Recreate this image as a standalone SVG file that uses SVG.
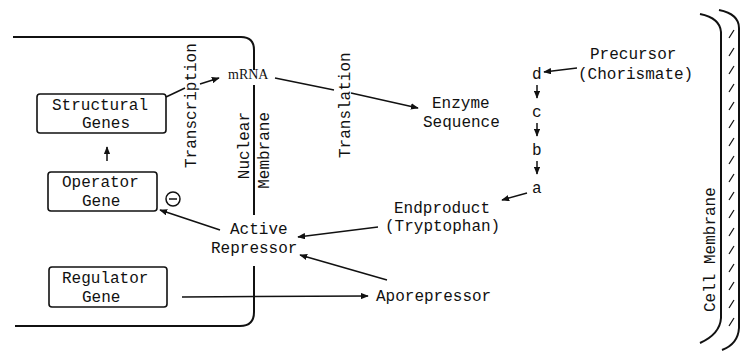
<svg xmlns="http://www.w3.org/2000/svg" width="741" height="351" viewBox="0 0 741 351">
<style>
text{font-family:"Liberation Mono","Courier New",monospace;font-size:16px;fill:#111}
.serif{font-family:"Liberation Serif","Times New Roman",serif;font-size:14px}
.box{fill:none;stroke:#111;stroke-width:1.6}
.ln{fill:none;stroke:#111;stroke-width:1.5}
.mem{fill:none;stroke:#111;stroke-width:2}
.hatch{stroke:#111;stroke-width:1.2}
</style>
<defs>
<marker id="ah" viewBox="0 0 10 8" refX="9" refY="4" markerWidth="8" markerHeight="6.4" markerUnits="userSpaceOnUse" orient="auto">
<path d="M0,0 L10,4 L0,8 z" fill="#111"/>
</marker>
</defs>

<g id="nucleus">
<path class="mem" d="M13,37 H241 Q254,37 254,50 V70"/>
<path class="mem" d="M254,85 V215"/>
<path class="mem" d="M254,266 V312 Q254,326 240,326 H15"/>
<text transform="translate(249,112) rotate(-90)" text-anchor="end">Nuclear</text>
<text transform="translate(269,112) rotate(-90)" text-anchor="end">Membrane</text>
</g>

<g id="cell-membrane">
<path class="mem" d="M700,14 Q720,18 721,32 V318 Q720,334 700,343"/>
<path class="mem" d="M719,10 Q739,14 739,28 V328 Q738,344 722,350"/>
<g class="hatch">
<line x1="729" y1="38" x2="734" y2="30"/>
<line x1="729" y1="56" x2="734" y2="48"/>
<line x1="729" y1="74" x2="734" y2="66"/>
<line x1="729" y1="92" x2="734" y2="84"/>
<line x1="729" y1="110" x2="734" y2="102"/>
<line x1="729" y1="128" x2="734" y2="120"/>
<line x1="729" y1="146" x2="734" y2="138"/>
<line x1="729" y1="164" x2="734" y2="156"/>
<line x1="729" y1="182" x2="734" y2="174"/>
<line x1="729" y1="200" x2="734" y2="192"/>
<line x1="729" y1="218" x2="734" y2="210"/>
<line x1="729" y1="236" x2="734" y2="228"/>
<line x1="729" y1="254" x2="734" y2="246"/>
<line x1="729" y1="272" x2="734" y2="264"/>
<line x1="729" y1="290" x2="734" y2="282"/>
<line x1="729" y1="308" x2="734" y2="300"/>
<line x1="729" y1="326" x2="734" y2="318"/>
</g>
<text transform="translate(715,312) rotate(-90)">Cell Membrane</text>
</g>

<g id="structural-genes">
<rect class="box" x="37" y="94" width="129" height="39" rx="3"/>
<text x="52" y="110">Structural</text>
<text x="82" y="128">Genes</text>
</g>

<g id="operator-gene">
<rect class="box" x="48" y="172" width="109" height="39" rx="3"/>
<text x="62" y="187">Operator</text>
<text x="82" y="206">Gene</text>
</g>

<g id="minus">
<circle cx="173" cy="199" r="7" fill="none" stroke="#111" stroke-width="1.5"/>
<line x1="169" y1="199" x2="177" y2="199" stroke="#111" stroke-width="1.5"/>
</g>

<g id="regulator-gene">
<rect class="box" x="49" y="267" width="118" height="40" rx="3"/>
<text x="62" y="283">Regulator</text>
<text x="82" y="302">Gene</text>
</g>

<g id="mrna"><text class="serif" x="228" y="79">mRNA</text></g>

<g id="transcription"><text transform="translate(196,168) rotate(-90)">Transcription</text></g>
<g id="translation"><text transform="translate(350,158) rotate(-90)">Translation</text></g>

<g id="enzyme">
<text x="432" y="108">Enzyme</text>
<text x="423" y="127">Sequence</text>
</g>

<g id="active-repressor">
<text x="230" y="234">Active</text>
<text x="211" y="253">Repressor</text>
</g>

<g id="aporepressor"><text x="376" y="301">Aporepressor</text></g>

<g id="endproduct">
<text x="394" y="213">Endproduct</text>
<text x="385" y="231">(Tryptophan)</text>
</g>

<g id="precursor">
<text x="590" y="59">Precursor</text>
<text x="578" y="79">(Chorismate)</text>
</g>

<g id="pathway">
<text x="532" y="79">d</text>
<text x="532" y="117">c</text>
<text x="532" y="155">b</text>
<text x="532" y="193">a</text>
</g>

<g id="connectors">
<line class="ln" x1="107" y1="161" x2="107" y2="147" marker-end="url(#ah)"/>
<line class="ln" x1="166" y1="97" x2="185" y2="88"/>
<line class="ln" x1="200" y1="84" x2="219" y2="78" marker-end="url(#ah)"/>
<line class="ln" x1="275" y1="78" x2="334" y2="90"/>
<line class="ln" x1="351" y1="93" x2="418" y2="108" marker-end="url(#ah)"/>
<line class="ln" x1="577" y1="68" x2="544" y2="72" marker-end="url(#ah)"/>
<line class="ln" x1="537" y1="85" x2="537" y2="98" marker-end="url(#ah)"/>
<line class="ln" x1="537" y1="123" x2="537" y2="136" marker-end="url(#ah)"/>
<line class="ln" x1="537" y1="161" x2="537" y2="174" marker-end="url(#ah)"/>
<line class="ln" x1="527" y1="193" x2="502" y2="200" marker-end="url(#ah)"/>
<line class="ln" x1="378" y1="227" x2="298" y2="237" marker-end="url(#ah)"/>
<line class="ln" x1="387" y1="280" x2="300" y2="255" marker-end="url(#ah)"/>
<line class="ln" x1="182" y1="297" x2="368" y2="296" marker-end="url(#ah)"/>
<line class="ln" x1="220" y1="230" x2="160" y2="210" marker-end="url(#ah)"/>
</g>
</svg>
